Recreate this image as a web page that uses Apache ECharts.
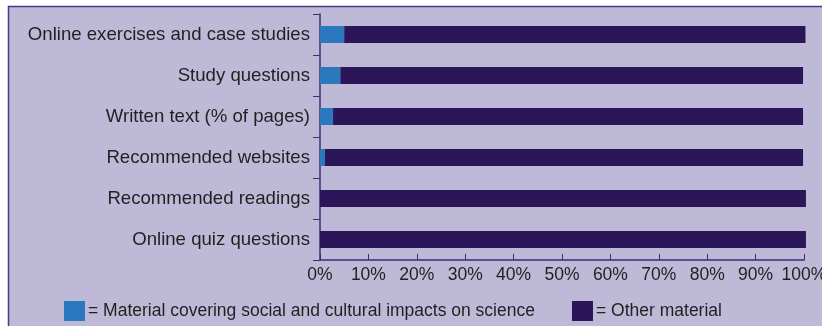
<!DOCTYPE html>
<html>
<head>
<meta charset="utf-8">
<style>
  html, body { margin: 0; padding: 0; background: #ffffff; }
  #chart { width: 822px; height: 326px; }
</style>
<script src="https://cdn.jsdelivr.net/npm/echarts@6/dist/echarts.min.js"></script>
</head>
<body>
<div id="chart"></div>
<script>
// Course material categories, top to bottom
const categories = [
  'Online exercises and case studies',
  'Study questions',
  'Written text (% of pages)',
  'Recommended websites',
  'Recommended readings',
  'Online quiz questions'
];
// Share of material (%) covering social and cultural impacts on science
const socialCultural = [5.0, 4.2, 2.7, 1.0, 0, 0];
// Share of other material (%)
const otherMaterial = [95.3, 95.6, 97.1, 98.8, 100.4, 100.4];
// X axis tick values
const xTicks = [0, 10, 20, 30, 40, 50, 60, 70, 80, 90, 100];

const seriesNames = [
  'Material covering social and cultural impacts on science',
  'Other material'
];

const FONT = '"Liberation Sans", Arial, sans-serif';
const TEXT = '#231f20';
const AXIS = '#3e2c7a';

const legendText = { fontFamily: FONT, fontSize: 17.5, color: TEXT, padding: [0, 0, 0, -2] };

const chart = echarts.init(document.getElementById('chart'));
chart.setOption({
  backgroundColor: '#ffffff',
  animation: false,
  graphic: [{
    type: 'rect',
    shape: { x: 8.5, y: 6.5, width: 830, height: 340 },
    style: { fill: '#bdb9d6', stroke: '#4a3a86', lineWidth: 1.5 },
    z: -10
  }],
  grid: { left: 320, right: 18, top: 14, bottom: 66, containLabel: false, outerBoundsMode: 'none' },
  legend: [{
    data: [seriesNames[0]],
    left: 59, top: 296,
    itemWidth: 21, itemHeight: 20,
    icon: 'rect',
    formatter: n => '= ' + n,
    textStyle: legendText
  }, {
    data: [seriesNames[1]],
    left: 567, top: 296,
    itemWidth: 21, itemHeight: 20,
    icon: 'rect',
    formatter: n => '= ' + n,
    textStyle: legendText
  }],
  xAxis: {
    type: 'value',
    min: xTicks[0], max: xTicks[xTicks.length - 1], interval: 10,
    axisLine: { show: true, lineStyle: { color: AXIS, width: 1.5 } },
    axisTick: { show: true, inside: true, length: 6, lineStyle: { color: AXIS, width: 1 } },
    splitLine: { show: false },
    axisLabel: {
      formatter: '{value}%', margin: 6,
      fontFamily: FONT, fontSize: 17.5, color: TEXT
    }
  },
  yAxis: {
    type: 'category',
    inverse: true,
    data: categories,
    axisLine: { show: true, lineStyle: { color: AXIS, width: 1.5 } },
    axisTick: { show: true, alignWithLabel: false, length: 7, lineStyle: { color: AXIS, width: 1 } },
    axisLabel: { margin: 10, fontFamily: FONT, fontSize: 18.6, color: TEXT }
  },
  series: [{
    name: seriesNames[0],
    type: 'bar', stack: 'total', barWidth: 17, clip: false,
    itemStyle: { color: '#2a78bd' },
    data: socialCultural
  }, {
    name: seriesNames[1],
    type: 'bar', stack: 'total', barWidth: 17, clip: false,
    itemStyle: { color: '#2b1659' },
    data: otherMaterial
  }]
});
</script>
</body>
</html>
